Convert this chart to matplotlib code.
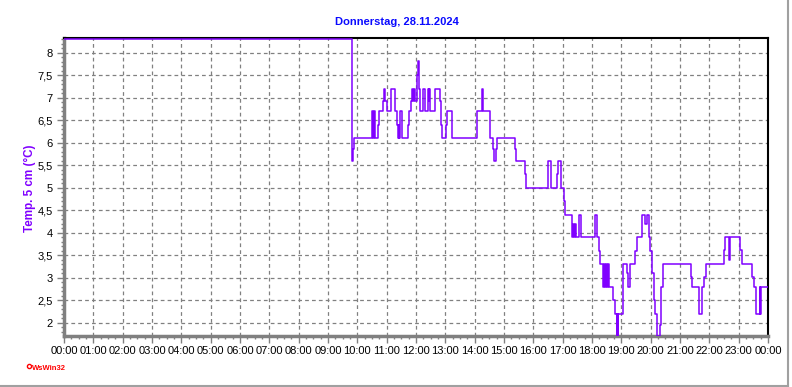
import matplotlib
matplotlib.use("Agg")
import matplotlib.pyplot as plt
from matplotlib.ticker import MultipleLocator, FixedLocator
from matplotlib.lines import Line2D

# time of day in hours, temperature at 5 cm (step values)
hours = [0.00, 9.81, 9.83, 9.85, 9.87, 10.50, 10.53, 10.57, 10.59, 10.69,
         10.73, 10.86, 10.90, 10.96, 11.00, 11.16, 11.29, 11.34, 11.38, 11.41,
         11.43, 11.45, 11.53, 11.73, 11.76, 11.84, 11.86, 11.90, 11.93, 11.98,
         12.04, 12.08, 12.10, 12.12, 12.14, 12.23, 12.32, 12.41, 12.44, 12.46,
         12.48, 12.65, 12.82, 12.85, 12.89, 13.02, 13.07, 13.24, 14.09, 14.26,
         14.27, 14.29, 14.53, 14.63, 14.67, 14.74, 14.77, 15.39, 15.42, 15.72,
         15.74, 16.51, 16.60, 16.82, 16.85, 16.95, 17.05, 17.09, 17.33, 17.35,
         17.39, 17.42, 17.44, 17.57, 17.61, 18.09, 18.18, 18.25, 18.27, 18.39,
         18.41, 18.44, 18.48, 18.51, 18.53, 18.57, 18.73, 18.79, 18.84, 18.86,
         18.87, 18.89, 19.07, 19.20, 19.24, 19.31, 19.48, 19.52, 19.70, 19.82,
         19.86, 19.93, 19.98, 20.05, 20.12, 20.16, 20.20, 20.31, 20.34, 20.43,
         21.36, 21.40, 21.64, 21.76, 21.82, 21.89, 22.51, 22.55, 22.67, 22.70,
         23.05, 23.10, 23.47, 23.52, 23.59, 23.72, 23.74, 23.76, 24.00]
temps = [8.31, 6.93, 5.60, 5.87, 6.10, 6.70, 6.10, 6.70, 6.10, 6.40,
         6.70, 6.93, 7.20, 6.93, 6.70, 7.20, 6.70, 6.40, 6.10, 6.40,
         6.10, 6.70, 6.10, 6.40, 6.70, 6.93, 7.20, 6.93, 7.20, 6.93,
         7.50, 7.82, 7.20, 6.93, 6.70, 7.20, 6.70, 7.20, 6.93, 7.20,
         6.70, 7.20, 6.93, 6.40, 6.10, 6.40, 6.70, 6.10, 6.70, 7.20,
         6.93, 6.70, 6.10, 5.86, 5.60, 5.86, 6.10, 5.86, 5.60, 5.30,
         5.00, 5.60, 5.00, 5.30, 5.60, 5.00, 4.70, 4.40, 3.90, 4.20,
         3.90, 4.20, 3.90, 4.40, 3.90, 4.40, 3.90, 3.60, 3.30, 2.80,
         3.30, 2.80, 3.30, 2.80, 3.30, 2.80, 2.50, 2.20, 1.70, 2.20,
         1.70, 2.20, 3.30, 3.10, 2.80, 3.30, 3.60, 3.90, 4.40, 4.20,
         4.40, 3.90, 3.60, 3.10, 2.50, 2.20, 1.70, 1.96, 2.79, 3.31,
         3.03, 2.79, 2.20, 2.79, 3.03, 3.31, 3.61, 3.90, 3.40, 3.90,
         3.61, 3.31, 3.03, 2.79, 2.20, 2.79, 2.20, 2.79, 2.79]

hour_labels = ["%02d:00" % (h % 24) for h in range(25)]
y_ticks = [2, 2.5, 3, 3.5, 4, 4.5, 5, 5.5, 6, 6.5, 7, 7.5, 8]

plt.rcParams["font.family"] = ["Liberation Sans", "DejaVu Sans"]

fig = plt.figure(figsize=(7.92, 3.87), dpi=100)
ax = fig.add_axes([64 / 792, 51 / 387, 704 / 792, 298 / 387])

ax.step(hours, temps, where="post", color="#8000ff", lw=1.1, zorder=3)

ax.set_xlim(0, 24)
ax.set_ylim(1.71, 8.33)

ax.xaxis.set_major_locator(FixedLocator(range(25)))
ax.set_xticklabels(hour_labels)
ax.xaxis.set_minor_locator(MultipleLocator(0.25))
ax.yaxis.set_major_locator(FixedLocator(y_ticks))
ax.set_yticklabels([("%g" % v).replace(".", ",") for v in y_ticks])
ax.yaxis.set_minor_locator(MultipleLocator(0.1))

ax.tick_params(axis="both", which="major", labelsize=8, color="#808080",
               length=5, width=1, pad=2)
ax.tick_params(axis="both", which="minor", color="#808080", length=2.5, width=1)
ax.tick_params(axis="y", pad=3)

ax.grid(True, which="major", color="#808080", linestyle=(0, (3, 2.5)), lw=0.9)

ax.spines["left"].set_color("#808080")
ax.spines["left"].set_linewidth(2.5)
ax.spines["bottom"].set_color("#808080")
ax.spines["bottom"].set_linewidth(2.5)
ax.spines["top"].set_color("black")
ax.spines["top"].set_linewidth(1.5)
ax.spines["right"].set_color("black")
ax.spines["right"].set_linewidth(1.5)

fig.text(397 / 792, 1 - 22 / 387, "Donnerstag, 28.11.2024", color="#0a0aff",
         fontsize=8, fontweight="bold", ha="center", va="center")
fig.text(30 / 792, 1 - 188 / 387, "Temp. 5 cm (°C)", color="#8000ff",
         fontsize=8.4, fontweight="bold", rotation=90, ha="center", va="center")

# WsWin32 logo
fig.text(32 / 792, 1 - 370 / 387, "WsWin32", color="#ff0000", fontsize=5.5,
         fontweight="bold", ha="left", va="baseline")
fig.add_artist(Line2D([29 / 792], [1 - 366 / 387], marker="o", ms=3,
                      mfc="none", mec="#ff0000", mew=1))

# window frame at bottom and right
fig.add_artist(Line2D([0, 788 / 792], [1 - 386 / 387, 1 - 386 / 387],
                      color="#a0a0a0", lw=1.5))
fig.add_artist(Line2D([788 / 792, 788 / 792], [0, 1], color="#a0a0a0", lw=1.5))

fig.savefig("out.png", dpi=100)
